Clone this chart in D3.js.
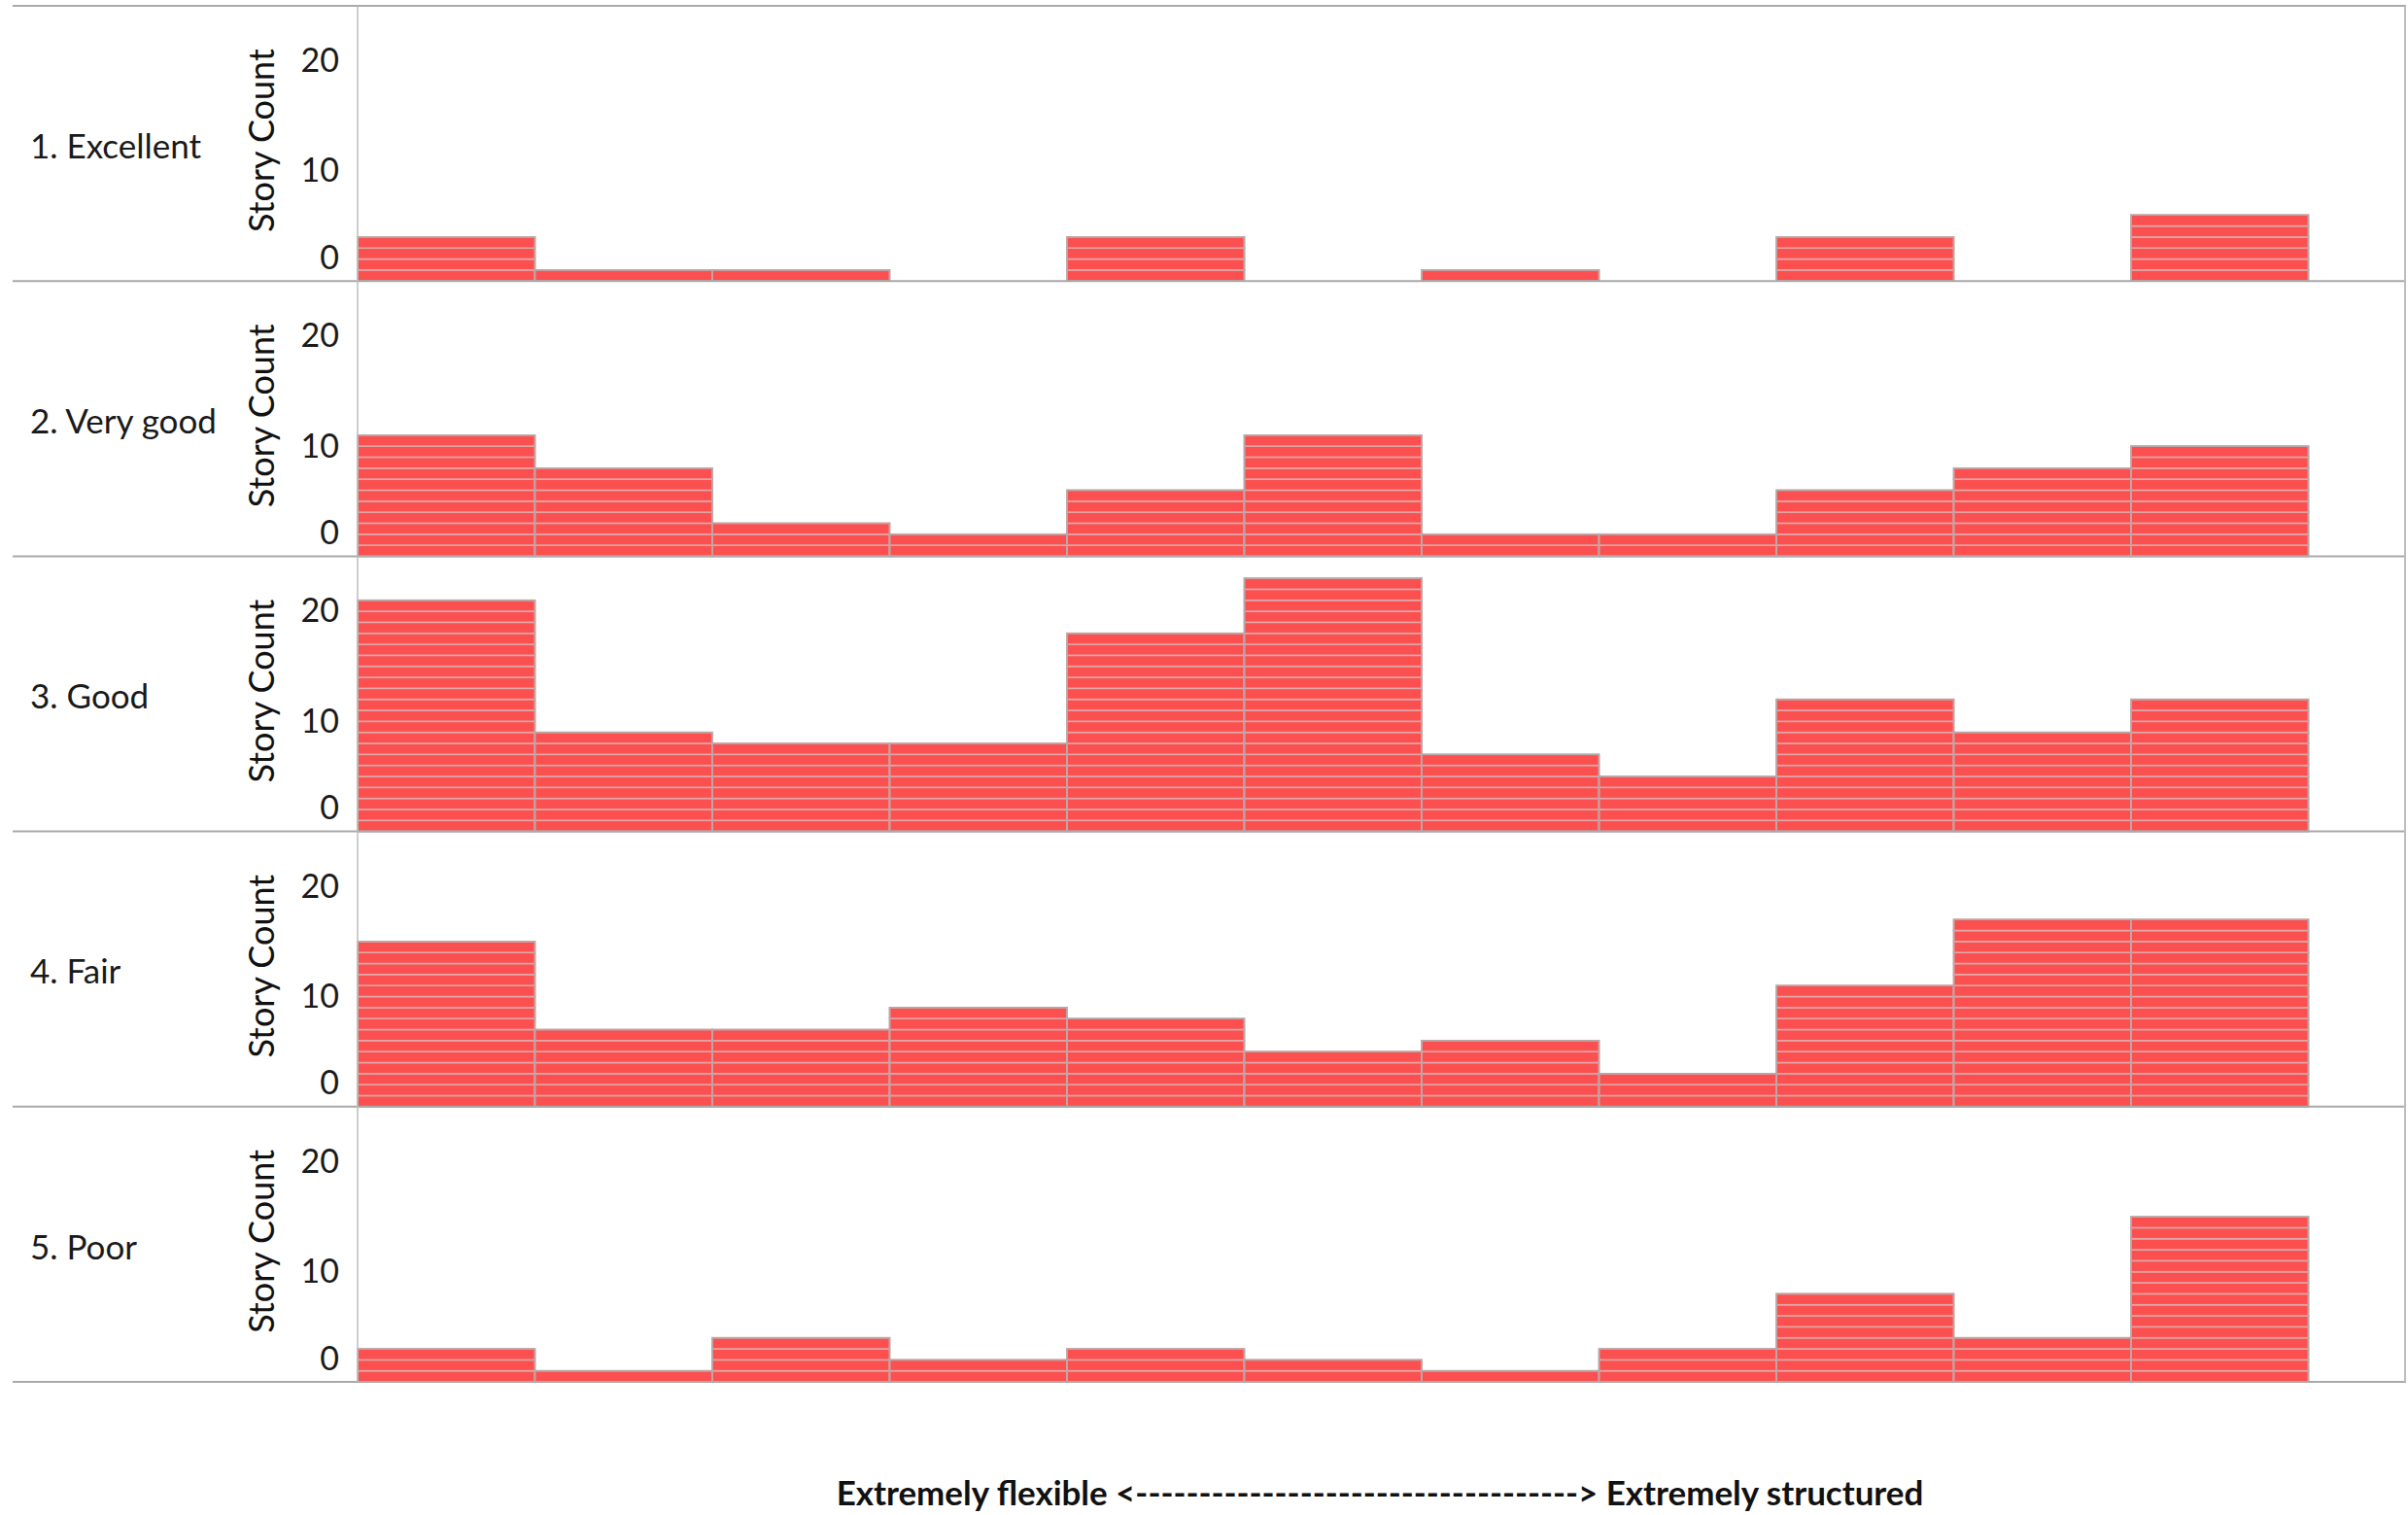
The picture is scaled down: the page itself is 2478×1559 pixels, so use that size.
<!DOCTYPE html>
<html>
<head>
<meta charset="utf-8">
<script src="https://cdn.jsdelivr.net/npm/d3@7"></script>
<style>
  html, body { margin: 0; padding: 0; background: #ffffff; }
  svg { display: block; }
  text { font-family: Lato, "Open Sans", sans-serif; }
</style>
</head>
<body>
<svg id="chart" width="2478" height="1559"></svg>
<script>
// ---- Data ----
const rowLabels = ["1. Excellent", "2. Very good", "3. Good", "4. Fair", "5. Poor"];
const bins = ["1", "2", "3", "4", "5", "6", "7", "8", "9", "10", "11"];
const excellent = [4, 1, 1, 0, 4, 0, 1, 0, 4, 0, 6];
const veryGood  = [11, 8, 3, 2, 6, 11, 2, 2, 6, 8, 10];
const good      = [21, 9, 8, 8, 18, 23, 7, 5, 12, 9, 12];
const fair      = [15, 7, 7, 9, 8, 5, 6, 3, 11, 17, 17];
const poor      = [3, 1, 4, 2, 3, 2, 1, 3, 8, 4, 15];
const seriesValues = [excellent, veryGood, good, fair, poor];
const yTicks = [0, 10, 20];
const yAxisTitle = "Story Count";
const xAxisTitle = "Extremely flexible <-----------------------------------> Extremely structured";

// ---- Layout ----
const svg = d3.select("#chart");
const lineLeft = 13, paneLeft = 368, paneRight = 2475;
const gridTop = 6, gridBottom = 1422;

const rowScale = d3.scaleBand().domain(rowLabels).range([gridTop, gridBottom]).padding(0);
const x = d3.scaleLinear().domain([0, bins.length + 0.545]).range([paneLeft, paneRight]);

const RED = "#fc4f4f";
const STRIPE = "#dfa7a7";
const EDGE = "#b7a7a7";
const GRID = "#a9a9a9";

const LABEL_SIZE = 35, TICK_SIZE = 34, TITLE_SIZE = 36;

rowLabels.forEach((label, ri) => {
  const r0 = rowScale(label);
  const r1 = r0 + rowScale.bandwidth();
  const y = d3.scaleLinear().domain([0, 25]).range([r1, r0]);
  const g = svg.append("g");
  const vals = seriesValues[ri];

  vals.forEach((n, bi) => {
    const x0 = x(bi), x1 = x(bi + 1);
    const bar = g.append("g");
    bar.selectAll("rect.unit")
      .data(d3.range(n))
      .join("rect")
      .attr("class", "unit")
      .attr("x", x0)
      .attr("width", x1 - x0)
      .attr("y", k => y(k + 1))
      .attr("height", k => y(k) - y(k + 1))
      .attr("fill", RED)
      .attr("stroke", STRIPE)
      .attr("stroke-width", 1.6);
    if (n > 0) {
      bar.append("rect")
        .attr("x", x0).attr("width", x1 - x0)
        .attr("y", y(n)).attr("height", y(0) - y(n))
        .attr("fill", "none")
        .attr("stroke", EDGE)
        .attr("stroke-width", 1.6);
    }
  });

  const axis = d3.axisLeft(y).tickValues(yTicks).tickSize(0).tickPadding(0).tickFormat(d3.format("d"));
  const ag = g.append("g").attr("transform", `translate(${paneLeft - 19},0)`).call(axis);
  ag.select(".domain").remove();
  ag.selectAll("text")
    .attr("font-size", TICK_SIZE)
    .attr("fill", "#1a1a1a")
    .style("font-family", "Lato, 'Open Sans', sans-serif")
    .attr("dy", d => d === 0 ? "-0.38em" : "0.32em");

  g.append("text")
    .attr("transform", `translate(${282},${(r0 + r1) / 2 - 3}) rotate(-90)`)
    .attr("text-anchor", "middle")
    .attr("font-size", TITLE_SIZE)
    .attr("fill", "#111")
    .text(yAxisTitle);

  g.append("text")
    .attr("x", 31)
    .attr("y", (r0 + r1) / 2 + 3)
    .attr("dy", "0.35em")
    .attr("font-size", LABEL_SIZE)
    .attr("fill", "#1a1a1a")
    .text(label);
});

const frame = svg.append("g");
[gridTop, ...rowLabels.map(l => rowScale(l) + rowScale.bandwidth())].forEach(yy => {
  frame.append("line")
    .attr("x1", lineLeft).attr("x2", paneRight + 1)
    .attr("y1", yy).attr("y2", yy)
    .attr("stroke", GRID).attr("stroke-width", 2);
});
frame.append("line")
  .attr("x1", paneLeft).attr("x2", paneLeft)
  .attr("y1", gridTop).attr("y2", gridBottom)
  .attr("stroke", "#bdbdbd").attr("stroke-width", 1.5);
frame.append("line")
  .attr("x1", paneRight).attr("x2", paneRight)
  .attr("y1", gridTop).attr("y2", gridBottom)
  .attr("stroke", "#bdbdbd").attr("stroke-width", 2);

const xt = svg.append("text")
  .attr("x", 1420)
  .attr("y", 1549)
  .attr("text-anchor", "middle")
  .attr("font-size", 33)
  .attr("font-weight", "bold")
  .attr("fill", "#111")
  .text(xAxisTitle);
const len = xt.node().getComputedTextLength();
xt.attr("font-size", 33 * 1119 / len);
</script>
</body>
</html>
